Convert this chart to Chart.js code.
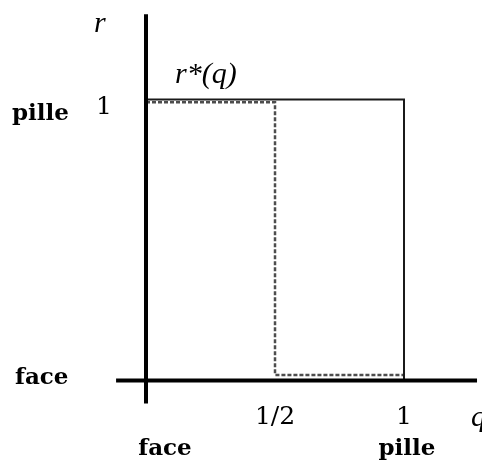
<!DOCTYPE html>
<html>
<head>
<meta charset="utf-8">
<script src="https://cdn.jsdelivr.net/npm/chart.js@4.4.1/dist/chart.umd.min.js"></script>
<style>
  html, body { margin: 0; padding: 0; background: #fff; }
</style>
</head>
<body>
<canvas id="myChart" width="482" height="462"></canvas>
<script>
// best response r*(q): solid step and dotted step
var solidQ = [0, 1, 1];
var solidR = [1, 1, 0];
var dottedQ = [0, 0.5, 0.5, 1];
var dottedR = [0.99, 0.99, 0.02, 0.02];

// tick labels on the two axes
var xTickValues = [0.5, 1];
var xTickLabels = ["1/2", "1"];
var yTickValues = [1];
var yTickLabels = ["1"];

// pure strategies written beside the axes
var xStateValues = [0, 1];
var xStateLabels = ["face", "pille"];
var yStateValues = [0, 1];
var yStateLabels = ["face", "pille"];

function toPoints(qs, rs) {
  var pts = [];
  for (var i = 0; i < qs.length; i++) {
    pts = [...pts, { x: qs[i], y: rs[i] }];
  }
  return pts;
}

var BOLD = "bold 23px 'DejaVu Serif'";
var NUM = "25px 'DejaVu Serif'";
var ITAL = "italic 30px 'Liberation Serif'";

// crossed axes and all the text, placed through the chart scales
var axesPlugin = {
  id: "crossAxes",
  afterDatasetsDraw: function (chart) {
    var ctx = chart.ctx;
    var xs = chart.scales.x;
    var ys = chart.scales.y;
    var x0 = xs.getPixelForValue(0);
    var y0 = ys.getPixelForValue(0);

    ctx.save();
    ctx.strokeStyle = "#000";
    ctx.lineWidth = 4;
    ctx.beginPath();
    ctx.moveTo(x0, ys.getPixelForValue(1.303));
    ctx.lineTo(x0, ys.getPixelForValue(-0.082));
    ctx.moveTo(xs.getPixelForValue(-0.116), y0);
    ctx.lineTo(xs.getPixelForValue(1.283), y0);
    ctx.stroke();

    ctx.fillStyle = "#000";
    ctx.textBaseline = "alphabetic";

    // x tick labels
    ctx.font = NUM;
    ctx.textAlign = "center";
    for (var i = 0; i < xTickValues.length; i++) {
      ctx.fillText(xTickLabels[i], xs.getPixelForValue(xTickValues[i]), y0 + 43);
    }
    // y tick labels
    for (var j = 0; j < yTickValues.length; j++) {
      ctx.fillText(yTickLabels[j], 104, ys.getPixelForValue(yTickValues[j]) + 14);
    }

    // strategy names
    ctx.font = BOLD;
    ctx.textAlign = "center";
    var xShift = [19, 3];
    for (var k = 0; k < xStateValues.length; k++) {
      ctx.fillText(xStateLabels[k], xs.getPixelForValue(xStateValues[k]) + xShift[k], y0 + 74);
    }
    ctx.textAlign = "left";
    var yShift = [3, 20];
    for (var m = 0; m < yStateValues.length; m++) {
      ctx.fillText(yStateLabels[m], yStateLabels[m] == "face" ? 15 : 12, ys.getPixelForValue(yStateValues[m]) + yShift[m]);
    }

    // axis names and curve name
    ctx.font = ITAL;
    ctx.textAlign = "left";
    ctx.fillText("r", 94, 32);
    ctx.fillText("q", 471, y0 + 45);
    ctx.fillText("r*(q)", 175, 83);
    ctx.restore();
  },
};

new Chart("myChart", {
  type: "scatter",
  data: {
    datasets: [
      {
        data: toPoints(solidQ, solidR),
        showLine: true,
        borderColor: "#1a1a1a",
        borderWidth: 2,
        pointRadius: 0,
        fill: false,
      },
      {
        data: toPoints(dottedQ, dottedR),
        showLine: true,
        borderColor: "#4d4d4d",
        borderWidth: 2.5,
        borderDash: [4, 2],
        pointRadius: 0,
        fill: false,
      },
    ],
  },
  options: {
    responsive: false,
    animation: false,
    devicePixelRatio: 1,
    layout: { padding: 0 },
    plugins: {
      legend: { display: false },
      tooltip: { enabled: false },
    },
    scales: {
      x: { type: "linear", display: false, min: -0.5659, max: 1.3023 },
      y: { type: "linear", display: false, min: -0.29, max: 1.3541 },
    },
  },
  plugins: [axesPlugin],
});
</script>
</body>
</html>
